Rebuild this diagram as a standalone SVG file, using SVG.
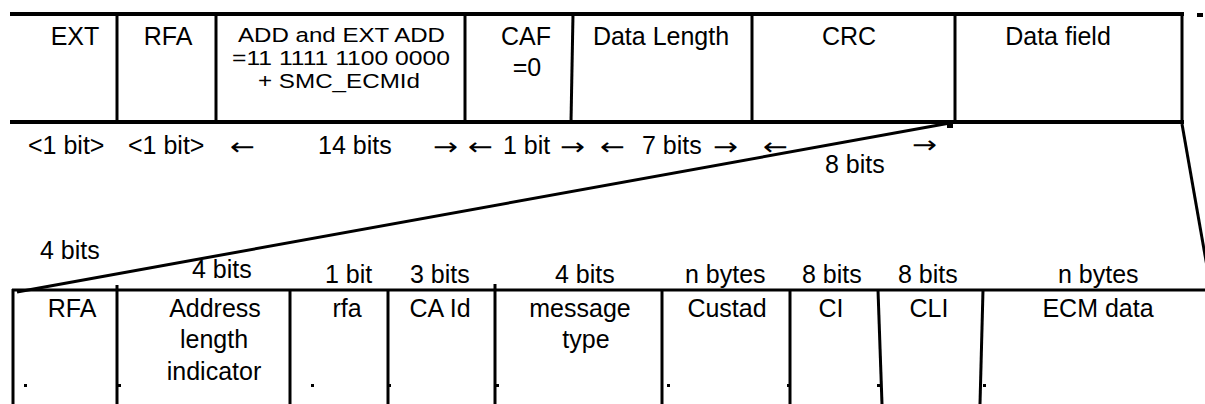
<svg xmlns="http://www.w3.org/2000/svg" width="1205" height="404" viewBox="0 0 1205 404">
<style>
text{font-family:"Liberation Sans",Arial,sans-serif;font-size:25px;fill:#000}
.c{text-anchor:middle}
.s{font-size:20.5px}
.ar{font-family:"DejaVu Sans",sans-serif;font-size:24px}
.thick{stroke:#000;stroke-width:4;fill:none}
.ln{stroke:#000;stroke-width:3;fill:none}
</style>
<rect width="1205" height="404" fill="#fff"/>
<g id="connectors">
<line class="ln" x1="950" y1="123" x2="17" y2="292"/>
<line class="ln" x1="1182" y1="124" x2="1212" y2="295"/>
<rect x="947" y="121" width="6" height="7" fill="#000"/>
<rect x="1197" y="13" width="6" height="4" fill="#000"/>
</g>
<g id="frame-top">
<line class="thick" x1="10" y1="14" x2="1184" y2="14"/>
<line class="thick" x1="10" y1="122" x2="1184" y2="122"/>
<line class="ln" x1="117" y1="14" x2="117" y2="122"/>
<line class="ln" x1="216" y1="14" x2="216" y2="122"/>
<line class="ln" x1="465" y1="14" x2="465" y2="122"/>
<line class="ln" x1="573" y1="14" x2="571" y2="122"/>
<line class="ln" x1="752" y1="14" x2="752" y2="122"/>
<line class="ln" x1="955" y1="14" x2="955" y2="122"/>
<line class="ln" x1="1182" y1="14" x2="1182" y2="122"/>
</g>
<g id="ext"><text x="75" y="45" class="c">EXT</text></g>
<g id="rfa"><text x="168" y="45" class="c">RFA</text></g>
<g id="add"><text x="238" y="42" class="s" textLength="207" lengthAdjust="spacingAndGlyphs">ADD and EXT ADD</text><text x="232" y="65" class="s" textLength="218" lengthAdjust="spacingAndGlyphs">=11 1111 1100 0000</text><text x="258" y="88" class="s" textLength="162" lengthAdjust="spacingAndGlyphs">+ SMC_ECMId</text></g>
<g id="caf"><text x="526" y="45" class="c">CAF</text><text x="527" y="76" class="c">=0</text></g>
<g id="datalength"><text x="661" y="45" class="c">Data Length</text></g>
<g id="crc"><text x="849" y="45" class="c">CRC</text></g>
<g id="datafield"><text x="1058" y="45" class="c">Data field</text></g>
<g id="bit-widths">
<text x="28" y="154">&lt;1 bit&gt;</text>
<text x="128" y="154">&lt;1 bit&gt;</text>
<text x="230" y="155" class="ar" textLength="25" lengthAdjust="spacingAndGlyphs">←</text>
<text x="318" y="154">14 bits</text>
<text x="433" y="155" class="ar" textLength="25" lengthAdjust="spacingAndGlyphs">→</text>
<text x="468" y="155" class="ar" textLength="25" lengthAdjust="spacingAndGlyphs">←</text>
<text x="503" y="154">1 bit</text>
<text x="560" y="155" class="ar" textLength="25" lengthAdjust="spacingAndGlyphs">→</text>
<text x="600" y="155" class="ar" textLength="25" lengthAdjust="spacingAndGlyphs">←</text>
<text x="642" y="154">7 bits</text>
<text x="713" y="155" class="ar" textLength="25" lengthAdjust="spacingAndGlyphs">→</text>
<text x="763" y="155" class="ar" textLength="25" lengthAdjust="spacingAndGlyphs">←</text>
<text x="912" y="153" class="ar" textLength="25" lengthAdjust="spacingAndGlyphs">→</text>
<text x="825" y="173">8  bits</text>
</g>
<g id="frame-bottom">
<line class="ln" x1="12" y1="290" x2="1205" y2="290"/>
<line class="ln" x1="13" y1="289" x2="13" y2="404"/>
<line class="ln" x1="117" y1="285" x2="117" y2="404"/>
<line class="ln" x1="290" y1="290" x2="290" y2="404"/>
<line class="ln" x1="388" y1="290" x2="388" y2="404"/>
<line class="ln" x1="495" y1="284" x2="495" y2="404"/>
<line class="ln" x1="662" y1="290" x2="662" y2="404"/>
<line class="ln" x1="790" y1="290" x2="790" y2="404"/>
<line class="ln" x1="878" y1="290" x2="882" y2="404"/>
<line class="ln" x1="983" y1="290" x2="980" y2="404"/>
<rect x="24" y="384" width="3" height="3" fill="#000"/>
<rect x="118" y="384" width="3" height="3" fill="#000"/>
<rect x="311" y="384" width="3" height="3" fill="#000"/>
<rect x="388" y="384" width="3" height="3" fill="#000"/>
<rect x="496" y="384" width="3" height="3" fill="#000"/>
<rect x="667" y="384" width="3" height="3" fill="#000"/>
<rect x="787" y="384" width="3" height="3" fill="#000"/>
<rect x="877" y="384" width="3" height="3" fill="#000"/>
<rect x="983" y="384" width="3" height="3" fill="#000"/>
</g>
<g id="labels-bottom">
<text x="40" y="259">4 bits</text>
<text x="192" y="278">4 bits</text>
<text x="325" y="283">1 bit</text>
<text x="410" y="283">3 bits</text>
<text x="555" y="283">4 bits</text>
<text x="685" y="283">n bytes</text>
<text x="802" y="283">8 bits</text>
<text x="898" y="283">8 bits</text>
<text x="1058" y="283">n bytes</text>
</g>
<g id="b-rfa"><text x="72" y="317" class="c">RFA</text></g>
<g id="b-ali"><text x="215" y="317" class="c">Address</text><text x="214" y="348" class="c">length</text><text x="214" y="380" class="c">indicator</text></g>
<g id="b-rfa2"><text x="347" y="317" class="c">rfa</text></g>
<g id="b-caid"><text x="440" y="317" class="c">CA Id</text></g>
<g id="b-msg"><text x="580" y="317" class="c">message</text><text x="586" y="348" class="c">type</text></g>
<g id="b-custad"><text x="727" y="317" class="c">Custad</text></g>
<g id="b-ci"><text x="831" y="317" class="c">CI</text></g>
<g id="b-cli"><text x="929" y="317" class="c">CLI</text></g>
<g id="b-ecm"><text x="1098" y="317" class="c">ECM data</text></g>
</svg>
